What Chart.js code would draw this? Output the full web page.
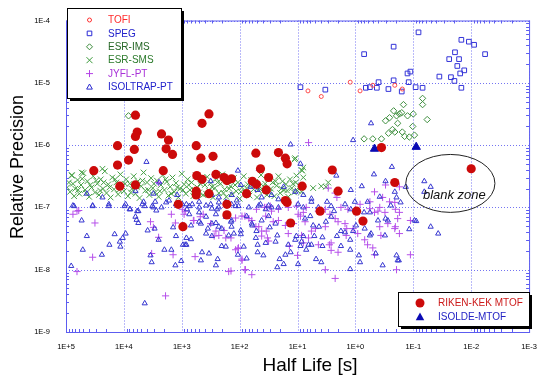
<!DOCTYPE html>
<html>
<head>
<meta charset="utf-8">
<script src="https://cdn.jsdelivr.net/npm/chart.js@4/dist/chart.umd.min.js"></script>
<style>
  html, body { margin: 0; padding: 0; background: #fff; }
</style>
</head>
<body>
<canvas id="c" width="547" height="381"></canvas>
<script>
// every point is [log10(half life / s), log10(relative precision)]
const rikenKek = [
  [3.80,-5.52],[2.65,-5.65],[2.53,-5.50],[3.77,-5.79],[3.80,-5.86],[3.35,-5.82],[3.23,-5.92],[4.11,-6.01],[3.82,-6.07],[2.75,-6.01],
  [3.27,-6.06],[3.16,-6.15],[2.67,-6.21],[2.46,-6.18],[3.92,-6.24],[4.11,-6.32],[4.52,-6.41],[3.32,-6.41],[2.74,-6.49],[2.65,-6.55],
  [2.41,-6.47],[2.27,-6.52],[2.14,-6.54],[2.22,-6.57],[1.72,-6.13],[1.64,-6.38],[1.50,-6.52],[1.33,-6.12],[1.21,-6.21],[1.18,-6.30],
  [1.78,-6.58],[1.71,-6.63],[1.54,-6.72],[4.07,-6.66],[3.80,-6.64],[2.75,-6.74],[2.75,-6.80],[2.53,-6.78],[1.88,-6.78],[2.22,-6.95],
  [3.06,-6.95],[2.22,-7.12],[2.98,-7.31],[0.92,-6.66],[1.21,-6.89],[1.18,-6.92],[0.40,-6.40],[0.30,-6.74],[-0.68,-6.60],[-0.45,-6.04],
  [-2.00,-6.38],[0.61,-7.06],[-0.02,-7.06],[1.12,-7.25],[-0.13,-7.22]
];
const isoldeMtof = [[-0.33,-6.06],[-1.05,-6.03]];
const tofi = [[0.82,-5.13],[0.59,-5.22],[0.09,-4.99],[-0.08,-5.13],[-0.30,-5.04],[-0.68,-5.04],[-0.81,-5.10]];
const speg = [
  [0.95,-5.07],[0.52,-5.11],[-0.15,-4.54],[-0.66,-4.42],[-0.18,-5.08],[-0.25,-5.07],[-0.40,-4.99],[-0.37,-5.08],[-0.57,-5.10],[-0.66,-4.96],
  [-0.80,-5.14],[-0.90,-4.85],[-0.95,-4.82],[-0.92,-4.99],[-1.04,-5.07],[-1.16,-5.08],[-1.09,-4.19],[-1.45,-4.90],[-1.65,-4.91],[-1.71,-4.97],
  [-1.83,-5.08],[-1.62,-4.62],[-1.72,-4.51],[-1.79,-4.62],[-1.76,-4.73],[-1.81,-4.85],[-1.88,-4.80],[-1.83,-4.31],[-1.96,-4.34],[-2.05,-4.39],
  [-2.24,-4.54]
];
const esrIms = [
  [-0.15,-5.90],[-0.30,-5.90],[-0.45,-5.90],[-0.57,-5.81],[-0.64,-5.75],[-0.68,-5.79],[-0.81,-5.79],[-0.85,-5.86],[-0.73,-5.65],[-0.52,-5.61],
  [-0.59,-5.56],[-0.71,-5.53],[-0.76,-5.50],[-0.80,-5.48],[-0.90,-5.53],[-1.00,-5.50],[-0.99,-5.70],[-1.24,-5.59],[-0.83,-5.35],[-0.66,-5.45],
  [-1.16,-5.25],[-1.16,-5.35],[3.92,-5.53],[-0.93,-5.87],[-1.02,-5.84]
];
const esrSms = [
  [4.95,-6.60],[4.93,-6.75],[4.90,-6.48],[4.86,-6.82],[4.84,-6.70],[4.80,-6.56],[4.77,-6.78],[4.74,-6.64],[4.70,-6.45],[4.67,-6.72],
  [4.63,-6.58],[4.60,-6.83],[4.56,-6.68],[4.53,-6.50],[4.50,-6.76],[4.46,-6.62],[4.43,-6.80],[4.40,-6.55],[4.36,-6.70],[4.33,-6.42],
  [4.30,-6.77],[4.27,-6.63],[4.23,-6.84],[4.20,-6.52],[4.17,-6.71],[4.13,-6.60],[4.10,-6.79],[4.06,-6.47],[4.03,-6.66],[4.00,-6.74],
  [3.96,-6.55],[3.93,-6.82],[3.90,-6.62],[3.86,-6.70],[3.83,-6.50],[3.80,-6.78],[3.76,-6.58],[3.73,-6.85],[3.70,-6.66],[3.66,-6.44],
  [3.63,-6.73],[3.60,-6.60],[3.56,-6.80],[3.53,-6.53],[3.50,-6.69],[3.46,-6.76],[3.43,-6.57],[3.40,-6.83],[3.36,-6.64],[3.33,-6.48],
  [3.30,-6.72],[3.26,-6.59],[3.23,-6.81],[3.20,-6.67],[3.16,-6.52],[3.13,-6.75],[3.10,-6.61],[3.06,-6.84],[3.03,-6.70],[3.00,-6.46],
  [2.96,-6.63],[2.93,-6.78],[2.90,-6.55],[2.86,-6.72],[2.83,-6.60],[2.80,-6.82],[2.76,-6.49],[2.73,-6.68],[2.70,-6.76],[2.66,-6.57],
  [2.63,-6.80],[2.60,-6.64],[2.56,-6.51],[2.53,-6.73],[2.50,-6.61],[2.46,-6.84],[2.43,-6.69],[2.40,-6.54],[2.36,-6.77],[2.33,-6.62],
  [2.30,-6.47],[2.26,-6.71],[2.23,-6.83],[2.20,-6.58],[2.16,-6.66],[2.13,-6.79],[2.10,-6.53],[2.06,-6.74],[2.03,-6.60],[2.00,-6.86],
  [1.96,-6.68],[1.93,-6.50],[1.90,-6.76],[1.86,-6.63],[1.83,-6.81],[1.80,-6.56],[1.76,-6.71],[1.73,-6.59],[1.70,-6.84],[1.66,-6.66],
  [1.63,-6.48],[1.60,-6.75],[1.56,-6.62],[1.53,-6.80],[1.50,-6.54],[1.46,-6.70],[1.43,-6.60],[1.40,-6.82],[1.36,-6.65],[1.33,-6.50],
  [1.30,-6.77],[1.26,-6.58],[1.23,-6.72],[1.20,-6.63],[1.16,-6.83],[1.13,-6.55],[1.10,-6.69],[1.06,-6.76],[1.03,-6.60],[1.00,-6.73],
  [0.96,-6.66],
  [4.98,-6.68],[4.88,-6.62],[4.79,-6.72],[4.72,-6.54],[4.65,-6.77],[4.58,-6.64],[4.48,-6.57],[4.41,-6.73],[4.35,-6.60],[4.25,-6.68],
  [4.15,-6.55],[4.08,-6.72],[3.98,-6.62],[3.88,-6.76],[3.78,-6.67],[3.68,-6.57],[3.58,-6.72],[3.48,-6.62],[3.38,-6.74],[3.28,-6.55],
  [3.18,-6.78],[3.08,-6.68],[2.98,-6.72],[2.88,-6.64],[2.78,-6.73],[2.68,-6.62],[2.58,-6.78],[2.48,-6.67],[2.38,-6.60],[2.28,-6.77],
  [2.18,-6.70],[2.08,-6.64],[1.98,-6.75],[1.88,-6.69],[1.78,-6.64],[1.68,-6.72],[1.58,-6.67],[1.48,-6.76],[1.38,-6.58],[1.28,-6.70],
  [1.18,-6.73],[1.08,-6.62],
  [4.37,-6.38],[4.73,-6.44],[4.90,-6.49],[1.04,-6.21],[1.02,-6.49],[0.92,-6.41],[0.90,-6.36],[0.93,-6.40],[0.90,-6.52],[0.93,-6.75],
  [0.73,-6.69],[0.59,-6.66],[0.47,-6.60],[0.51,-6.67],[1.05,-6.23]
];
const jyflPt = [
  [4.88,-7.11],[4.78,-7.05],[4.50,-7.25],[3.54,-7.23],[3.49,-7.32],[3.40,-7.48],[3.18,-7.11],[3.11,-7.25],[3.52,-7.74],[3.15,-7.76],
  [4.54,-7.80],[4.81,-8.03],[3.28,-8.42],[2.79,-7.21],[2.68,-7.15],[2.63,-7.11],[2.50,-7.26],[2.36,-7.45],[2.27,-7.37],[2.24,-7.49],
  [2.07,-7.17],[1.96,-7.14],[1.84,-7.18],[1.72,-7.31],[1.62,-7.46],[1.54,-7.38],[1.52,-7.49],[1.42,-7.23],[1.33,-7.21],[1.21,-7.29],
  [1.16,-7.42],[1.07,-7.26],[0.99,-7.11],[0.87,-7.23],[0.90,-7.57],[1.00,-7.77],[1.14,-7.62],[2.03,-7.66],[1.96,-7.85],[2.15,-8.02],
  [1.91,-8.00],[1.79,-8.08],[2.77,-7.79],[2.94,-7.06],[1.57,-7.00],[1.33,-7.03],[0.95,-7.14],[0.90,-7.08],[0.64,-7.06],[0.44,-7.11],
  [0.35,-7.18],[0.30,-7.23],[0.18,-7.26],[0.15,-7.34],[0.04,-7.34],[-0.04,-7.42],[0.16,-7.45],[0.42,-7.57],[0.45,-7.60],[0.64,-7.60],
  [0.81,-7.49],[0.93,-7.45],[0.76,-7.38],[0.69,-7.34],[0.52,-7.31],[0.30,-7.72],[0.42,-7.69],[-0.16,-7.52],[-0.21,-7.60],[-0.30,-7.65],
  [-0.33,-7.76],[-0.44,-7.45],[-0.42,-7.31],[-0.56,-7.26],[-0.68,-7.34],[-0.76,-7.42],[-0.73,-7.18],[-0.76,-7.08],[-0.42,-7.00],[-0.33,-7.08],
  [-0.51,-7.08],[-0.69,-7.03],[-0.95,-7.76],[-0.71,-8.00],[0.35,-8.14],[0.52,-8.00],[0.85,-7.00],[0.25,-7.00],[-0.95,-7.21],[-0.69,-7.31],
  [0.81,-5.96],[-0.52,-6.64],[-0.33,-6.75],[-0.47,-6.84],[-0.59,-6.91],[-0.68,-6.92],[-0.25,-6.91],[-0.08,-6.95],[-0.25,-7.02],[-0.39,-7.06],
  [0.35,-6.77],[0.32,-6.84],[0.52,-7.03],[0.00,-7.03],[0.13,-7.03],[-0.76,-6.67],[0.47,-6.69],[1.71,-7.03],[1.54,-7.00],[1.45,-7.06],
  [1.16,-7.00],[1.02,-6.98],[3.40,-6.60],[4.81,-7.06],[2.99,-7.03],[2.96,-7.11],[2.80,-7.21],[2.44,-7.46],[2.41,-7.38],[2.19,-8.03],
  [2.02,-7.65],[1.90,-8.00],[1.96,-7.83],[2.15,-7.49],[2.07,-7.68],[1.67,-7.31],[1.62,-7.38],[1.50,-7.54],[1.79,-7.21],[1.91,-7.14],
  [1.55,-7.14],[1.47,-6.98]
];
const isoltrapPt = [
  [4.86,-6.98],[4.54,-6.98],[4.26,-6.98],[3.99,-6.98],[3.89,-7.03],[3.75,-7.06],[3.64,-6.98],[3.49,-7.00],[3.44,-7.05],[3.35,-7.00],
  [4.73,-7.21],[3.80,-7.15],[3.78,-7.20],[3.75,-7.25],[3.59,-7.37],[3.47,-7.34],[3.15,-7.32],[3.10,-7.46],[2.94,-7.60],[3.40,-7.52],
  [4.16,-7.43],[3.97,-7.42],[4.64,-7.46],[4.02,-7.49],[4.07,-7.55],[4.06,-7.63],[4.25,-7.60],[4.71,-7.68],[4.38,-7.76],[3.54,-7.77],
  [3.52,-7.88],[3.30,-7.68],[3.11,-7.93],[4.91,-7.94],[3.64,-8.54],
  [2.84,-7.51],[2.92,-7.60],[3.01,-7.86],[2.67,-7.85],[2.65,-7.72],[2.53,-7.74],[2.41,-7.93],[2.38,-7.83],[2.48,-7.46],[2.55,-7.34],
  [2.67,-7.26],[2.41,-7.25],[2.31,-7.34],[2.15,-7.23],[2.14,-7.31],[2.10,-7.42],[1.98,-7.43],[2.03,-7.76],[1.88,-7.82],[1.78,-7.29],
  [1.71,-7.38],[1.72,-7.49],[1.69,-7.60],[1.69,-7.72],[1.59,-7.77],[1.55,-7.57],[1.48,-7.32],[1.38,-7.55],[1.35,-7.45],[1.31,-7.83],
  [1.35,-7.96],[1.24,-7.91],[1.21,-7.76],[1.12,-7.72],[1.04,-7.52],[1.02,-7.46],[0.95,-7.62],[0.90,-7.46],[0.85,-7.68],[1.16,-7.60],
  [2.98,-7.60],[2.31,-7.62],[2.24,-7.63],[1.93,-7.63],
  [0.78,-7.14],[0.87,-7.18],[0.73,-7.29],[0.63,-7.31],[0.71,-7.46],[0.81,-7.60],[0.93,-7.55],[0.76,-7.60],[0.57,-7.62],[0.32,-7.46],
  [0.25,-7.38],[0.18,-7.40],[0.09,-7.52],[0.25,-7.62],[0.09,-7.68],[0.04,-7.38],[-0.01,-7.29],[-0.16,-7.34],[-0.25,-7.45],[-0.27,-7.42],
  [-0.51,-7.45],[-0.39,-7.21],[-0.25,-7.08],[-0.52,-7.18],[-0.56,-7.21],[-1.02,-7.21],[-1.05,-7.22],[-0.93,-7.35],[-0.06,-7.77],[-0.08,-7.88],
  [-0.35,-7.74],[-0.71,-7.77],[-0.75,-7.85],[-0.47,-7.93],[0.09,-7.99],[0.68,-7.83],[0.59,-7.88],[0.99,-7.91],[0.57,-7.48],[0.51,-7.23],
  [0.42,-7.15],[0.37,-7.06],[0.08,-7.03],[-0.15,-7.08],[-1.30,-7.31],[-1.43,-7.42],[-0.73,-7.85],
  [3.61,-6.27],[3.39,-6.60],[3.49,-6.78],[3.22,-6.89],[4.54,-6.97],[4.26,-6.95],[4.88,-6.97],[3.97,-6.95],[3.90,-7.03],[3.77,-7.06],
  [4.64,-6.78],[4.37,-6.84],[3.80,-6.74],[3.66,-6.91],[3.46,-6.91],[3.08,-6.80],[2.91,-7.03],[2.99,-6.95],[2.03,-6.41],[1.67,-6.38],
  [2.50,-6.58],[1.98,-6.64],[1.81,-6.67],[1.69,-6.72],[2.48,-6.80],[2.36,-6.84],[2.14,-6.80],[2.05,-6.89],[2.07,-6.98],[2.70,-6.91],
  [2.82,-6.95],[2.92,-6.95],[2.39,-7.03],[2.36,-6.92],[2.50,-6.95],[2.24,-6.91],[1.45,-6.80],[1.33,-6.87],[1.62,-6.84],[1.64,-6.95],
  [1.50,-6.97],[1.33,-7.00],[1.24,-6.67],[1.12,-5.99],[0.95,-6.30],[1.04,-6.75],[0.90,-6.80],[0.99,-6.95],[0.33,-6.49],[-0.27,-5.65],
  [0.04,-5.92],[-0.32,-6.47],[-0.63,-6.35],[-0.52,-6.58],[-0.11,-6.66],[0.08,-6.72],[-0.68,-6.75],[-0.42,-6.83],[0.49,-6.91],[0.76,-6.91],
  [0.42,-6.98],[0.18,-6.95],[0.01,-6.91],[-0.21,-6.91],[-0.61,-6.97],[-0.78,-6.92],[-0.71,-6.84],[0.90,-7.00],[0.64,-7.00],[-1.19,-6.58],
  [-1.19,-6.75],[-1.30,-6.67],[-0.87,-6.67],[0.76,-6.86],
  [3.68,-6.95],[3.51,-6.98],[3.27,-6.92],[3.10,-6.95],[2.87,-6.98],[2.70,-7.00],[2.58,-6.97],[2.48,-7.02],[2.36,-7.00],[2.14,-6.95],
  [2.02,-6.98],[1.84,-7.00],[1.67,-6.97],[1.55,-7.03],[1.45,-7.00],
  [2.87,-7.11],[2.70,-7.08],[2.58,-7.15],[2.41,-7.11],[2.24,-7.15],[2.70,-7.23],[2.84,-7.29],[2.48,-7.26],[2.36,-7.31],[2.14,-7.21],
  [1.88,-7.14],[1.79,-7.26],[1.62,-7.21],[1.50,-7.14],[1.38,-7.26],[1.98,-7.37],[2.19,-7.45],[2.58,-7.42],[2.92,-7.49],[3.18,-7.68]
];

const xTickValues = [1e5, 1e4, 1e3, 1e2, 1e1, 1e0, 1e-1, 1e-2, 1e-3];
const yTickValues = [1e-4, 1e-5, 1e-6, 1e-7, 1e-8, 1e-9];

// the circled empty region, in data units
const blankZone = { label: 'blank zone', xFrom: Math.pow(10, -0.87), xTo: Math.pow(10, -2.41), yFrom: Math.pow(10, -6.15), yTo: Math.pow(10, -7.08) };

const GRID = '#7474f2';

function toXY(list) {
  return list.map(p => ({ x: Math.pow(10, p[0]), y: Math.pow(10, p[1]) }));
}

function sciLabel(v) {
  const l = Math.log10(v), e = Math.round(l);
  if (Math.abs(l - e) > 1e-6) return '';
  return '1E' + (e < 0 ? '-' : '+') + Math.abs(e);
}

function ds(label, pts, style, radius, color, fill, width) {
  return {
    label: label, data: toXY(pts), showLine: false,
    pointStyle: style, pointRadius: radius,
    pointBorderColor: color, pointBackgroundColor: fill,
    pointBorderWidth: width
  };
}

function marker(ctx, style, x, y, r, color, filled) {
  ctx.save();
  ctx.strokeStyle = color; ctx.fillStyle = color; ctx.lineWidth = 1;
  ctx.beginPath();
  if (style === 'circle') {
    ctx.arc(x, y, r, 0, Math.PI * 2);
  } else if (style === 'rect') {
    ctx.rect(x - r, y - r, 2 * r, 2 * r);
  } else if (style === 'rectRot') {
    ctx.moveTo(x, y - r); ctx.lineTo(x + r, y); ctx.lineTo(x, y + r); ctx.lineTo(x - r, y); ctx.closePath();
  } else if (style === 'crossRot') {
    ctx.moveTo(x - r, y - r); ctx.lineTo(x + r, y + r); ctx.moveTo(x + r, y - r); ctx.lineTo(x - r, y + r);
  } else if (style === 'cross') {
    ctx.moveTo(x - r, y); ctx.lineTo(x + r, y); ctx.moveTo(x, y - r); ctx.lineTo(x, y + r);
  } else if (style === 'triangle') {
    ctx.moveTo(x, y - r); ctx.lineTo(x + r * 0.95, y + r * 0.7); ctx.lineTo(x - r * 0.95, y + r * 0.7); ctx.closePath();
  }
  if (filled) ctx.fill(); else ctx.stroke();
  ctx.restore();
}

function legendBox(ctx, x, y, w, h) {
  ctx.save();
  ctx.fillStyle = '#000';
  ctx.fillRect(x + 3, y + 3, w, h);
  ctx.fillStyle = '#fff';
  ctx.fillRect(x, y, w, h);
  ctx.strokeStyle = '#000'; ctx.lineWidth = 1;
  ctx.strokeRect(x + 0.5, y + 0.5, w, h);
  ctx.restore();
}

const topLegend = [
  { text: 'TOFI', style: 'circle', r: 2, color: '#ff3030', text_color: '#ff2a2a', filled: false },
  { text: 'SPEG', style: 'rect', r: 2.3, color: '#2a2ad6', text_color: '#2222cc', filled: false },
  { text: 'ESR-IMS', style: 'rectRot', r: 3, color: '#3a8a3a', text_color: '#256625', filled: false },
  { text: 'ESR-SMS', style: 'crossRot', r: 3, color: '#3a9a3a', text_color: '#2b7a2b', filled: false },
  { text: 'JYFL-PT', style: 'cross', r: 3.5, color: '#b442e6', text_color: '#a830d8', filled: false },
  { text: 'ISOLTRAP-PT', style: 'triangle', r: 3, color: '#2a2ad0', text_color: '#2222cc', filled: false }
];
const bottomLegend = [
  { text: 'RIKEN-KEK MTOF', style: 'circle', r: 4.5, color: '#cc0a0a', text_color: '#cc1a1a', filled: true },
  { text: 'ISOLDE-MTOF', style: 'triangle', r: 4.5, color: '#0a0ab4', text_color: '#2222c4', filled: true }
];

const decor = {
  id: 'decor',
  beforeDatasetsDraw(chart) {
    const ctx = chart.ctx, a = chart.chartArea;
    const xs = chart.scales.x, ys = chart.scales.y;
    ctx.save();
    ctx.strokeStyle = GRID; ctx.lineWidth = 1;
    ctx.setLineDash([1, 2]);
    xTickValues.forEach(v => {
      const px = Math.round(xs.getPixelForValue(v)) + 0.5;
      ctx.beginPath(); ctx.moveTo(px, a.top); ctx.lineTo(px, a.bottom); ctx.stroke();
    });
    yTickValues.forEach(v => {
      const py = Math.round(ys.getPixelForValue(v)) + 0.5;
      ctx.beginPath(); ctx.moveTo(a.left, py); ctx.lineTo(a.right, py); ctx.stroke();
    });
    ctx.setLineDash([]);
    // minor ticks on all four sides
    ctx.strokeStyle = '#5c5cf0';
    for (let d = -3; d < 5; d++) {
      for (let k = 2; k <= 9; k++) {
        const px = Math.round(xs.getPixelForValue(k * Math.pow(10, d))) + 0.5;
        ctx.beginPath();
        ctx.moveTo(px, a.bottom); ctx.lineTo(px, a.bottom - 3);
        ctx.moveTo(px, a.top); ctx.lineTo(px, a.top + 3);
        ctx.stroke();
      }
    }
    for (let d = -9; d < -4; d++) {
      for (let k = 2; k <= 9; k++) {
        const py = Math.round(ys.getPixelForValue(k * Math.pow(10, d))) + 0.5;
        ctx.beginPath();
        ctx.moveTo(a.left, py); ctx.lineTo(a.left + 3, py);
        ctx.moveTo(a.right, py); ctx.lineTo(a.right - 3, py);
        ctx.stroke();
      }
    }
    ctx.restore();
  },
  afterDraw(chart) {
    const ctx = chart.ctx, a = chart.chartArea;
    const xs = chart.scales.x, ys = chart.scales.y;
    ctx.save();
    // frame
    ctx.strokeStyle = '#5c5cf0'; ctx.lineWidth = 1;
    ctx.strokeRect(a.left + 0.5, a.top + 0.5, a.right - a.left, a.bottom - a.top);

    // blank zone
    const x1 = xs.getPixelForValue(blankZone.xFrom), x2 = xs.getPixelForValue(blankZone.xTo);
    const y1 = ys.getPixelForValue(blankZone.yFrom), y2 = ys.getPixelForValue(blankZone.yTo);
    ctx.strokeStyle = '#222'; ctx.lineWidth = 1;
    ctx.beginPath();
    ctx.ellipse((x1 + x2) / 2, (y1 + y2) / 2, Math.abs(x2 - x1) / 2, Math.abs(y2 - y1) / 2, 0, 0, Math.PI * 2);
    ctx.stroke();
    ctx.fillStyle = '#111';
    ctx.font = 'italic 13px "Liberation Sans", Arial, sans-serif';
    ctx.textAlign = 'center'; ctx.textBaseline = 'middle';
    ctx.fillText(blankZone.label, (x1 + x2) / 2 + 4, (y1 + y2) / 2 + 12);

    // axis titles
    ctx.fillStyle = '#000';
    ctx.font = '19px "Liberation Sans", Arial, sans-serif';
    ctx.fillText('Half Life [s]', 310, 366);
    ctx.save();
    ctx.translate(18, 167);
    ctx.rotate(-Math.PI / 2);
    ctx.font = '18px "Liberation Sans", Arial, sans-serif';
    ctx.fillText('Relative Precision', 0, 0);
    ctx.restore();

    // legends
    ctx.font = '10px "Liberation Sans", Arial, sans-serif';
    ctx.textAlign = 'left';
    legendBox(ctx, 67, 8, 114, 90);
    topLegend.forEach((it, i) => {
      const y = 20 + i * 13.4;
      marker(ctx, it.style, 89.5, y, it.r, it.color, it.filled);
      ctx.fillStyle = it.text_color;
      ctx.fillText(it.text, 108, y + 0.5);
    });
    legendBox(ctx, 398, 292, 131, 34);
    bottomLegend.forEach((it, i) => {
      const y = 303 + i * 14;
      marker(ctx, it.style, 420, y, it.r, it.color, it.filled);
      ctx.fillStyle = it.text_color;
      ctx.fillText(it.text, 438, y + 0.5);
    });
    ctx.restore();
  }
};

const tickFont = { family: '"Liberation Sans", Arial, sans-serif', size: 7.5 };

new Chart(document.getElementById('c'), {
  type: 'scatter',
  data: {
    datasets: [
      ds('RIKEN-KEK MTOF', rikenKek, 'circle', 4.6, '#cc0a0a', '#cc0a0a', 0),
      ds('ISOLDE-MTOF', isoldeMtof, 'triangle', 4.8, '#0a0ab4', '#0a0ab4', 1),
      ds('TOFI', tofi, 'circle', 2, '#ff4a4a', 'rgba(0,0,0,0)', 1),
      ds('SPEG', speg, 'rect', 3.3, '#3434d8', 'rgba(0,0,0,0)', 1),
      ds('ESR-IMS', esrIms, 'rectRot', 3.2, '#3f8f3f', 'rgba(0,0,0,0)', 1),
      ds('ISOLTRAP-PT', isoltrapPt, 'triangle', 3, '#3636d0', 'rgba(0,0,0,0)', 1),
      ds('JYFL-PT', jyflPt, 'cross', 3.6, '#b650ea', 'rgba(0,0,0,0)', 1),
      ds('ESR-SMS', esrSms, 'crossRot', 4, '#46a046', 'rgba(0,0,0,0)', 1)
    ]
  },
  options: {
    responsive: false,
    animation: false,
    events: [],
    layout: { padding: { top: 9, right: 15, left: 0, bottom: 0 } },
    plugins: { legend: { display: false }, tooltip: { enabled: false } },
    scales: {
      x: {
        type: 'logarithmic', reverse: true, min: 1e-3, max: 1e5,
        grid: { display: false, drawTicks: false },
        border: { display: false },
        ticks: { autoSkip: false, maxRotation: 0, padding: 10, color: '#000', font: tickFont, callback: v => sciLabel(v) },
        afterFit: s => { s.height = 49; }
      },
      y: {
        type: 'logarithmic', min: 1e-9, max: 1e-4,
        grid: { display: false, drawTicks: false },
        border: { display: false },
        ticks: { autoSkip: false, padding: 16, color: '#000', font: tickFont, callback: v => sciLabel(v) },
        afterFit: s => { s.width = 66; }
      }
    }
  },
  plugins: [decor]
});
</script>
</body>
</html>
